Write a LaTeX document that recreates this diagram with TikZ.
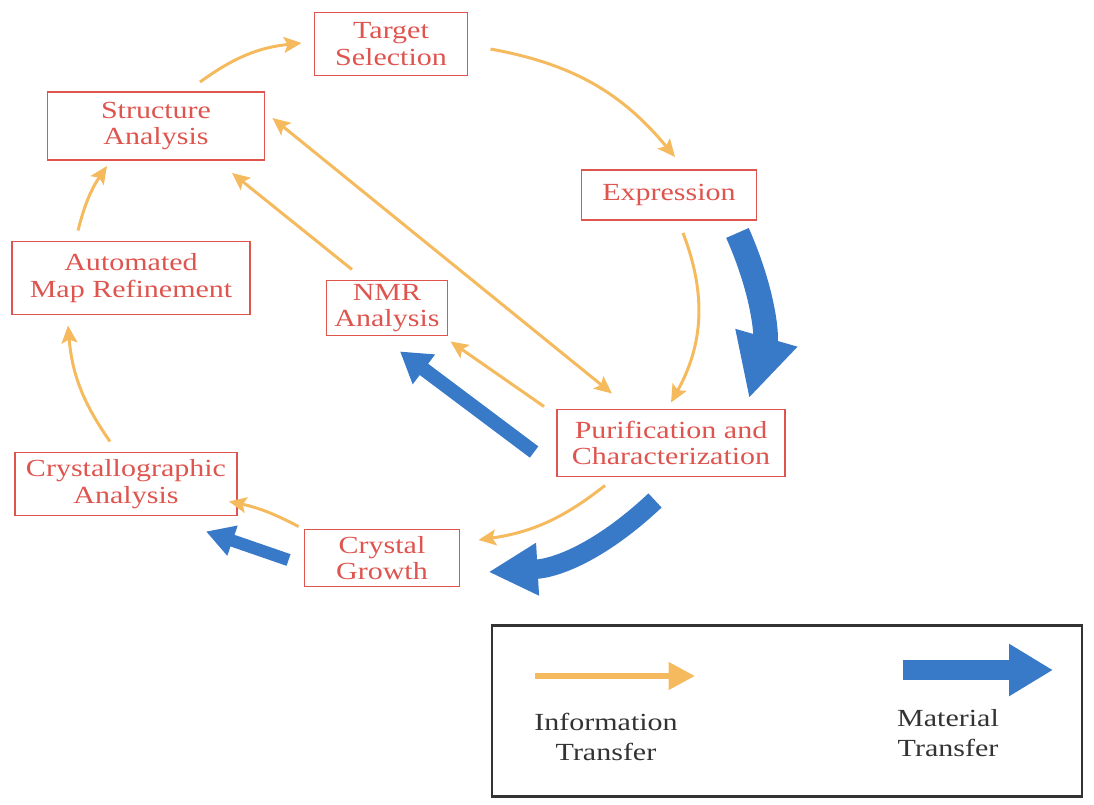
\documentclass[tikz,border=0pt]{standalone}
\usepackage{fontspec}
\setmainfont{Liberation Serif}[FakeStretch=1.22]
\usetikzlibrary{arrows.meta}
\definecolor{boxred}{RGB}{222,84,78}
\definecolor{infoyellow}{RGB}{246,186,94}
\definecolor{matblue}{RGB}{56,122,200}
\begin{document}
\begin{tikzpicture}[x=0.02cm,y=-0.02cm,
		stage/.style={draw=boxred,line width=1.1pt,text=boxred,align=center,
			font=\fontsize{14}{15}\selectfont,inner sep=0pt},
		info/.style={infoyellow,line width=1.7pt,-{Stealth[length=10pt,width=9pt,inset=2pt]}},
		mat/.style={matblue,line width=#1},
		legtext/.style={text=black!80,align=center,font=\fontsize{14}{17}\selectfont}]
		\useasboundingbox (0,0) rectangle (1094,804);
		\node[stage,minimum width=3.06cm,minimum height=1.26cm] (target) at (391,44) {Target\\Selection};
		\node[stage,minimum width=4.34cm,minimum height=1.36cm] (struct) at (156,126) {Structure\\Analysis};
		\node[stage,minimum width=3.5cm,minimum height=1.0cm] (expr) at (669,195) {Expression};
		\node[stage,minimum width=4.76cm,minimum height=1.46cm] (automap) at (131,278) {Automated\\Map Refinement};
		\node[stage,minimum width=2.42cm,minimum height=1.1cm] (nmr) at (387,308) {NMR\\Analysis};
		\node[stage,minimum width=4.56cm,minimum height=1.34cm] (purif) at (671,443) {Purification and\\Characterization};
		\node[stage,minimum width=4.44cm,minimum height=1.26cm] (crystana) at (126,484) {Crystallographic\\Analysis};
		\node[stage,minimum width=3.1cm,minimum height=1.14cm] (growth) at (382,558) {Crystal\\Growth};
		\draw[info] ([shift={(44,-9)}]struct.north) to[bend left=15] ([shift={(-12,-1)}]target.west);
		\draw[info] ([shift={(22,5)}]target.east) to[bend left=20] ([shift={(6,-12)}]expr.north);
		\draw[info] ([shift={(14,12)}]expr.south) to[bend left=25] ([shift={(0,-6)}]purif.north);
		\draw[info,{Stealth[length=10pt,width=9pt,inset=2pt]}-{Stealth[length=10pt,width=9pt,inset=2pt]}] ([shift={(7,-8)}]struct.east) -- ([shift={(-59,-15)}]purif.north);
		\draw[info] ([shift={(-35,-10)}]nmr.north) -- ([shift={(76,12)}]struct.south);
		\draw[info] ([shift={(-12,-2)}]purif.north west) -- ([shift={(2,5)}]nmr.south east);
		\draw[info] ([shift={(-66,8)}]purif.south) to[bend left=15] ([shift={(18,-18)}]growth.east);
		\draw[info] ([shift={(-5,-2)}]growth.north west) to[bend right=8] ([shift={(-9,-15)}]crystana.south east);
		\draw[info] ([shift={(-16,-10)}]crystana.north) to[bend left=15] ([shift={(-63,10)}]automap.south);
		\draw[info] ([shift={(-53,-10)}]automap.north) to[bend left=10] ([shift={(-49,5)}]struct.south);
		\draw[mat=14pt,-{Triangle[length=36pt,width=34pt]}] ([shift={(-20,12)}]expr.south east) to[bend left=20] ([shift={(-37,-10)}]purif.north east);
		\draw[mat=8pt,-{Triangle[length=17pt,width=20pt]}] ([shift={(-22,9)}]purif.west) -- ([shift={(13,15)}]nmr.south);
		\draw[mat=11pt,-{Triangle[length=28pt,width=28pt]}] ([shift={(-16,23)}]purif.south) to[bend left=20] ([shift={(28,14)}]growth.east);
		\draw[mat=7pt,-{Triangle[length=16pt,width=17pt]}] ([shift={(-15,2)}]growth.west) -- ([shift={(-32,15)}]crystana.south east);
		\node[draw=black!80,line width=1.5pt,minimum width=11.8cm,minimum height=3.42cm] (legend) at (787,711) {};
		\coordinate (i1) at (535,676);
		\coordinate (i2) at (695,676);
		\coordinate (m1) at (903,670);
		\coordinate (m2) at (1053,670);
		\draw[infoyellow,line width=3.4pt,-{Triangle[length=15pt,width=15pt]}] (i1) -- (i2);
		\draw[mat=11pt,-{Triangle[length=25pt,width=28pt]}] (m1) -- (m2);
		\node[legtext] (infotext) at (606,737) {Information\\Transfer};
		\node[legtext] (mattext) at (948,733) {Material\\Transfer};
	\end{tikzpicture}
\end{document}
